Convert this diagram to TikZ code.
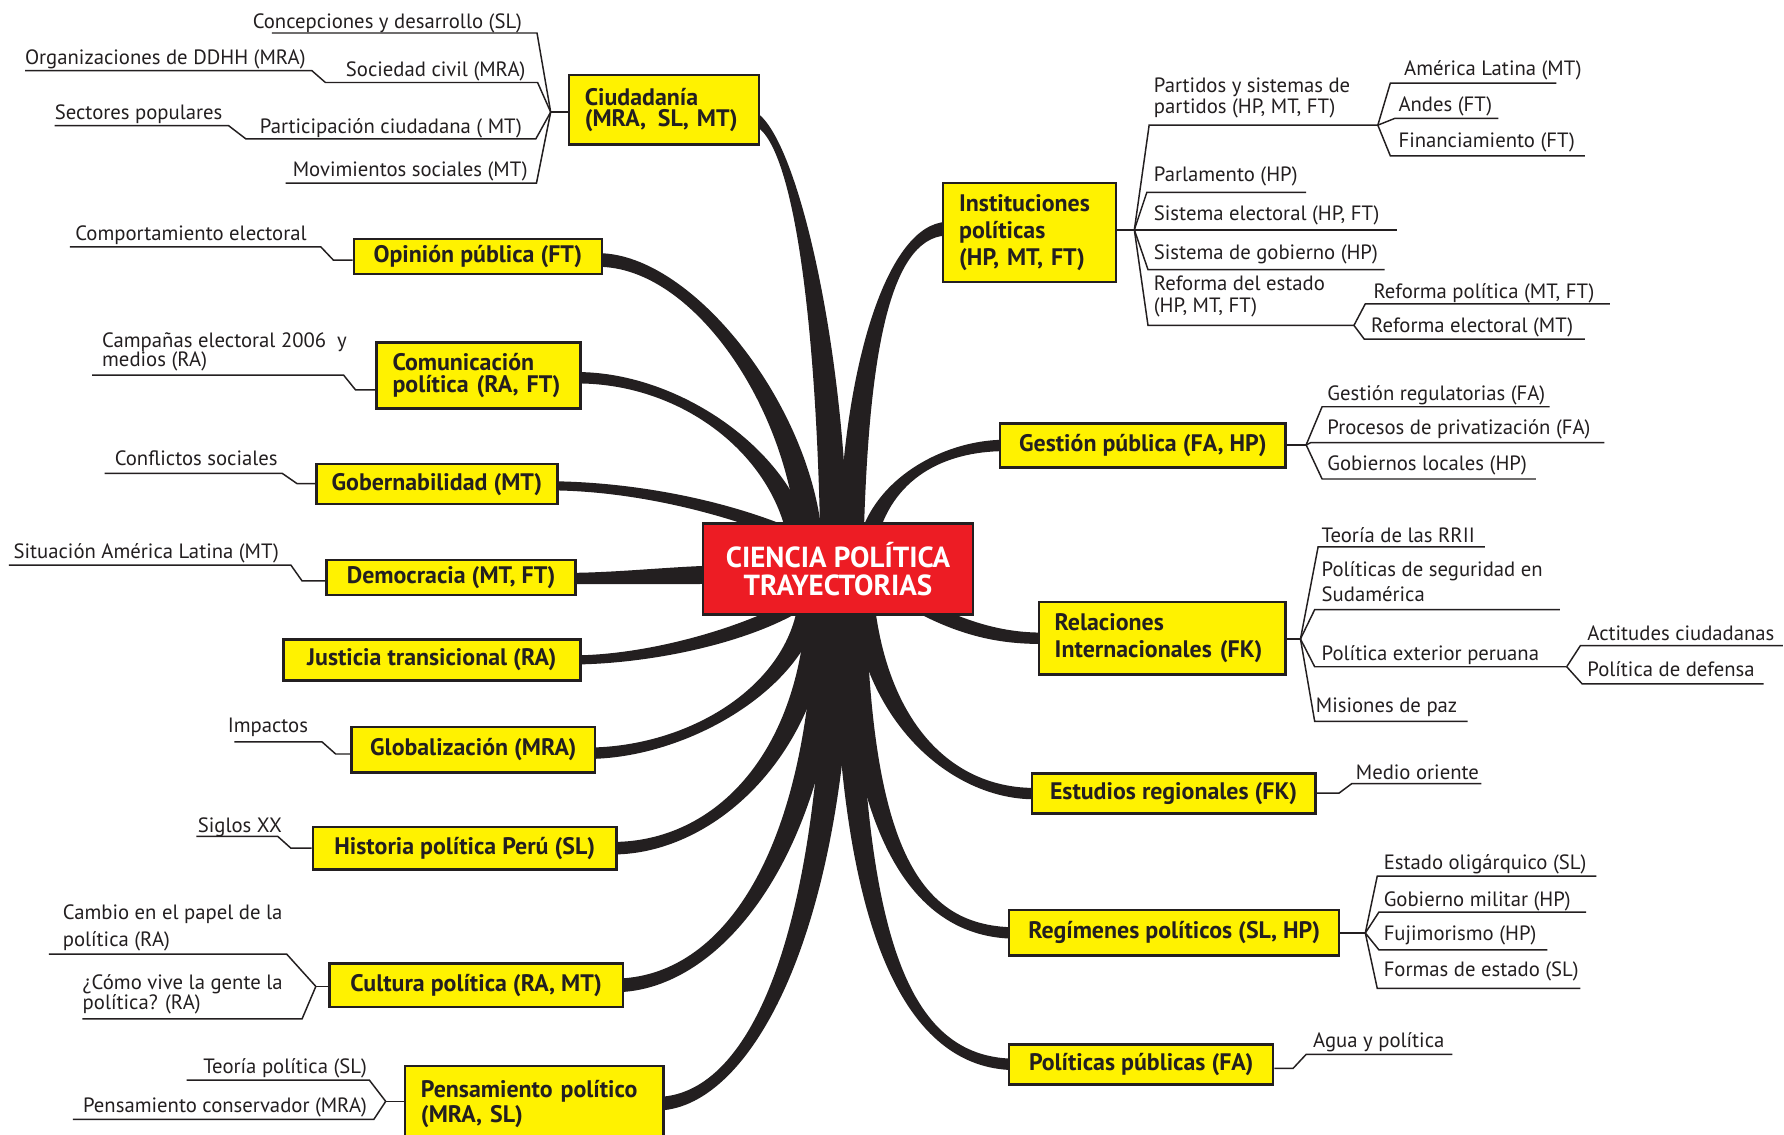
\documentclass[tikz,border=0pt]{standalone}
\usepackage{fontspec}
\usetikzlibrary{calc,backgrounds}
\newfontfamily\lblfam{PT Sans}
\definecolor{ink}{HTML}{231F20}
\definecolor{yel}{HTML}{FFF200}
\definecolor{redc}{HTML}{ED1C24}
\newcommand\lblfont{\lblfam\fontsize{18.2}{20}\selectfont}
\newcommand\bxf[1]{\lblfam\bfseries\fontsize{21}{#1}\selectfont}
\newcommand\cpf{\lblfam\bfseries\fontsize{25.5}{24.5}\selectfont}
\newcommand\tlimb[6]{\fill[ink] ($#1+#2$) .. controls ($#3+#2$) and ($#4+#6$) .. ($#5+#6$) -- ($#5-#6$) .. controls ($#4-#6$) and ($#3-#2$) .. ($#1-#2$) -- cycle;}
\begin{document}
\begin{tikzpicture}[x=1pt,y=-1pt,
 box/.style={draw=ink, line width=2.2pt, fill=yel, text=ink, font=\bxf{22}, inner sep=0pt},
 mbox/.style={box, align=left, inner xsep=14pt},
 lbl/.style={text=ink, font=\lblfont, inner sep=0pt},
 tl/.style={draw=ink, line width=1.3pt}]
\useasboundingbox (0,0) rectangle (1568,997);

% ---------- central node ----------
\node[draw=ink, line width=2pt, fill=redc, text=white, minimum width=237pt, minimum height=80pt,
      align=center, font=\cpf, inner sep=0pt] (cp) at (736.5,500) {CIENCIA POLÍTICA\\TRAYECTORIAS};

% ---------- left boxes ----------
\node[mbox, text width=139pt, minimum height=61pt, font={\bxf{18.5}}] (ciu) at (583.5,96.5) {Ciudadanía\\\mbox{(MRA,\, SL, MT)}};
\node[box, minimum width=218pt, minimum height=31pt] (opi) at (420,225.5) {Opinión pública (FT)};
\node[mbox, text width=151pt, minimum height=58pt, font={\bxf{19.5}}] (com) at (420.5,330) {Comunicación\\\mbox{política (RA, FT)}};
\node[box, minimum width=212pt, minimum height=35pt] (gob) at (384,425.5) {Gobernabilidad (MT)};
\node[box, minimum width=219pt, minimum height=31pt] (dem) at (396.5,507.5) {Democracia (MT, FT)};
\node[box, minimum width=261pt, minimum height=36pt] (jus) at (379.5,580) {Justicia transicional (RA)};
\node[box, minimum width=214pt, minimum height=40pt] (glo) at (416,659) {Globalización (MRA)};
\node[box, minimum width=267pt, minimum height=37pt] (his) at (408.5,745.5) {Historia política Perú (SL)};
\node[box, minimum width=258pt, minimum height=38pt] (cul) at (418.5,866) {Cultura política (RA, MT)};
\node[mbox, text width=199pt, minimum height=67pt, font={\bxf{21.5}}] (pen) at (469.5,970.5) {\mbox{Pensamiento político}\\(MRA, SL)};

% ---------- right boxes ----------
\node[mbox, text width=124pt, minimum height=87pt, font={\bxf{23.5}}] (ins) at (905,204.5) {Instituciones\\políticas\\\mbox{(HP, MT, FT)}};
\node[box, minimum width=251pt, minimum height=39pt] (ges) at (1004.5,391.5) {Gestión pública (FA, HP)};
\node[mbox, text width=189pt, minimum height=64pt, font={\bxf{24}}] (rel) at (1021.5,561) {Relaciones\\\mbox{Internacionales (FK)}};
\node[box, minimum width=249pt, minimum height=35pt] (est) at (1031.5,697.5) {Estudios regionales (FK)};
\node[box, minimum width=290pt, minimum height=40pt] (reg) at (1032,820) {Regímenes políticos (SL, HP)};
\node[box, minimum width=232pt, minimum height=35pt] (pol) at (1003,935.5) {Políticas públicas (FA)};

% ---------- left labels ----------
\node[lbl, anchor=base east] (t01) at (459,25.3) {Concepciones y desarrollo (SL)};
\node[lbl, anchor=base west] (t02) at (21.8,56.7) {Organizaciones de DDHH (MRA)};
\node[lbl, anchor=base east] (t03) at (462,67) {Sociedad civil (MRA)};
\node[lbl, anchor=base west] (t04) at (48,104.7) {Sectores populares};
\node[lbl, anchor=base east] (t05) at (459,117.7) {Participación ciudadana ( MT)};
\node[lbl, anchor=base east] (t06) at (464,155.5) {Movimientos sociales (MT)};
\node[lbl, anchor=base west] (t07) at (66,211) {Comportamiento electoral};
\node[lbl, anchor=base west] (t08) at (89.6,305.3) {Campañas electoral 2006~ y};
\node[lbl, anchor=base west] (t08b) at (89.6,321.9) {medios (RA)};
\node[lbl, anchor=base west] (t09) at (100.7,409.5) {Conflictos sociales};
\node[lbl, anchor=base west] (t10) at (11.8,490.6) {Situación América Latina (MT)};
\node[lbl, anchor=base west] (t11) at (200,644) {Impactos};
\node[lbl, anchor=base west] (t12) at (173.7,731.3) {Siglos XX};
\node[lbl, anchor=base west] (t13) at (55,808) {Cambio en el papel de la};
\node[lbl, anchor=base west] (t13b) at (55,832) {política (RA)};
\node[lbl, anchor=base west] (t14) at (72.5,870) {¿Cómo vive la gente la};
\node[lbl, anchor=base west] (t14b) at (72.5,887) {política? (RA)};
\node[lbl, anchor=base east] (t15) at (322.7,943.4) {Teoría política (SL)};
\node[lbl, anchor=base east] (t16) at (322.7,977.5) {Pensamiento conservador (MRA)};

% ---------- right labels ----------
\node[lbl, anchor=base west] (r01) at (1014,81.2) {Partidos y sistemas de};
\node[lbl, anchor=base west] (r01b) at (1014,99.4) {partidos (HP, MT, FT)};
\node[lbl, anchor=base west] (r02) at (1234,66.6) {América Latina (MT)};
\node[lbl, anchor=base west] (r03) at (1229,98) {Andes (FT)};
\node[lbl, anchor=base west] (r04) at (1229,130) {Financiamiento (FT)};
\node[lbl, anchor=base west] (r05) at (1014,159.5) {Parlamento (HP)};
\node[lbl, anchor=base west] (r06) at (1014,193.8) {Sistema electoral (HP, FT)};
\node[lbl, anchor=base west] (r07) at (1014,227.9) {Sistema de gobierno (HP)};
\node[lbl, anchor=base west] (r08) at (1014,255.4) {Reforma del estado};
\node[lbl, anchor=base west] (r08b) at (1014,274.8) {(HP, MT, FT)};
\node[lbl, anchor=base west] (r09) at (1207,262.5) {Reforma política (MT, FT)};
\node[lbl, anchor=base west] (r10) at (1205,292.4) {Reforma electoral (MT)};
\node[lbl, anchor=base west] (r11) at (1166.5,352) {Gestión regulatorias (FA)};
\node[lbl, anchor=base west] (r12) at (1166.5,381.7) {Procesos de privatización (FA)};
\node[lbl, anchor=base west] (r13) at (1166.5,413.2) {Gobiernos locales (HP)};
\node[lbl, anchor=base west] (r14) at (1161.5,476.8) {Teoría de las RRII};
\node[lbl, anchor=base west] (r15) at (1161.5,506.8) {Políticas de seguridad en};
\node[lbl, anchor=base west] (r15b) at (1161.5,529) {Sudamérica};
\node[lbl, anchor=base west] (r16) at (1161.5,580.7) {Política exterior peruana};
\node[lbl, anchor=base west] (r17) at (1395,562.8) {Actitudes ciudadanas};
\node[lbl, anchor=base west] (r18) at (1395,594.5) {Política de defensa};
\node[lbl, anchor=base west] (r19) at (1156.4,626.5) {Misiones de paz};
\node[lbl, anchor=base west] (r20) at (1191.5,684.7) {Medio oriente};
\node[lbl, anchor=base west] (r21) at (1216,764) {Estado oligárquico (SL)};
\node[lbl, anchor=base west] (r22) at (1216,797) {Gobierno militar (HP)};
\node[lbl, anchor=base west] (r23) at (1216,827) {Fujimorismo (HP)};
\node[lbl, anchor=base west] (r24) at (1216,858) {Formas de estado (SL)};
\node[lbl, anchor=base west] (r25) at (1154,920.3) {Agua y política};

% ---------- hubs ----------
\coordinate (hC) at (484,98.5);
\coordinate (hO) at (293,228.6);
\coordinate (hCo) at (312.5,342.7);
\coordinate (hG) at (261,425);
\coordinate (hD) at (265.5,510.6);
\coordinate (hGl) at (295,662.7);
\coordinate (hH) at (255.7,745.5);
\coordinate (hCu) at (277.6,867);
\coordinate (hP) at (339,968);
\coordinate (hI) at (997,202);
\coordinate (hI2) at (1211,110);
\coordinate (hI3) at (1190,286);
\coordinate (hGe) at (1148,391);
\coordinate (hR) at (1143,561.6);
\coordinate (hR2) at (1377,586);
\coordinate (hE) at (1177,697);
\coordinate (hRe) at (1200,820);
\coordinate (hPp) at (1136.5,939);

% ---------- branch end points ----------
\coordinate (sCiu) at (733,478);  \coordinate (eCiu) at ($(ciu.east)+(-4,8)$);
\coordinate (sOpi) at (712,478);  \coordinate (eOpi) at ($(opi.east)+(-4,3)$);
\coordinate (sCom) at (703,478);  \coordinate (eCom) at ($(com.east)+(-4,2)$);
\coordinate (sGob) at (700,472);  \coordinate (eGob) at ($(gob.east)+(-4,1.5)$);
\coordinate (sDem) at (630,505);  \coordinate (eDem) at ($(dem.east)+(-4,1)$);
\coordinate (sJus) at (700,532);  \coordinate (eJus) at ($(jus.east)+(-4,0)$);
\coordinate (sGlo) at (712,525);  \coordinate (eGlo) at ($(glo.east)+(-4,3)$);
\coordinate (sHis) at (720,525);  \coordinate (eHis) at ($(his.east)+(-4,0)$);
\coordinate (sCul) at (728,525);  \coordinate (eCul) at ($(cul.east)+(-4,0)$);
\coordinate (sPen) at (737,525);  \coordinate (ePen) at ($(pen.east)+(-4,-0.5)$);
\coordinate (sIns) at (748,478);  \coordinate (eIns) at ($(ins.west)+(4,-3.5)$);
\coordinate (sGes) at (762,478);  \coordinate (eGes) at ($(ges.west)+(4,0)$);
\coordinate (sRel) at (800,528);  \coordinate (eRel) at ($(rel.west)+(4,0)$);
\coordinate (sEst) at (758,525);  \coordinate (eEst) at ($(est.west)+(4,0)$);
\coordinate (sReg) at (750,525);  \coordinate (eReg) at ($(reg.west)+(4,0)$);
\coordinate (sPol) at (744,525);  \coordinate (ePol) at ($(pol.west)+(4,0)$);

\begin{pgfonlayer}{background}
\fill[white] (0,0) rectangle (1568,997);
% ----- thin sub-branches, left -----
\draw[tl] (ciu.west |- hC) -- (hC);
\draw[tl] (hC) -- (472,29) -- (239,29);
\draw[tl] (hC) -- (472.5,72.5) -- (286,72.5) -- (274,62) -- (22,62);
\draw[tl] (hC) -- (471,122) -- (216,122) -- (201,110.5) -- (48,110.5);
\draw[tl] (hC) -- (471.5,161) -- (251,161);
\draw[tl] (opi.west |- hO) -- (hO) -- (282,217) -- (61.5,217);
\draw[tl] (com.west |- hCo) -- (hCo) -- (302,329.7) -- (81,329.7);
\draw[tl] (gob.west |- hG) -- (hG) -- (248,416) -- (92,416);
\draw[tl] (dem.west |- hD) -- (hD) -- (255.7,496.7) -- (7.8,496.7);
\draw[tl] (glo.west |- hGl) -- (hGl) -- (283,652) -- (206,652);
\draw[tl] (his.west |- hH) -- (hH) -- (244,735) -- (172.5,735);
\draw[tl] (cul.west |- hCu) -- (hCu);
\draw[tl] (hCu) -- (252,838.6) -- (43,838.6);
\draw[tl] (hCu) -- (265.5,895.5) -- (72.5,895.5);
\draw[tl] (pen.west |- hP) -- (hP);
\draw[tl] (hP) -- (324.7,949.4) -- (164,949.4);
\draw[tl] (hP) -- (328.6,983.8) -- (64,983.8);
% ----- thin sub-branches, right -----
\draw[tl] (ins.east |- hI) -- (hI);
\draw[tl] (hI) -- (1010,110) -- (hI2);
\draw[tl] (hI2) -- (1222,73) -- (1368,73);
\draw[tl] (hI2) -- (1226,104) -- (1317,104);
\draw[tl] (hI2) -- (1222,137) -- (1393,137);
\draw[tl] (hI) -- (1008,169) -- (1148,169);
\draw[tl] (hI) -- (1228,202);
\draw[tl] (hI) -- (1009,237) -- (1217,237);
\draw[tl] (hI) -- (1009,286) -- (hI3);
\draw[tl] (hI3) -- (1200,267) -- (1415,267);
\draw[tl] (hI3) -- (1199,298) -- (1393,298);
\draw[tl] (ges.east |- hGe) -- (hGe);
\draw[tl] (hGe) -- (1162,357.5) -- (1362,357.5);
\draw[tl] (hGe) -- (1152,389) -- (1410,389);
\draw[tl] (hGe) -- (1162,421) -- (1350,421);
\draw[tl] (rel.east |- hR) -- (hR);
\draw[tl] (hR) -- (1158.5,480.7) -- (1305,480.7);
\draw[tl] (hR) -- (1155.5,535.8) -- (1371,535.8);
\draw[tl] (hR) -- (1155.5,586) -- (hR2);
\draw[tl] (hR2) -- (1389,567.5) -- (1567,567.5);
\draw[tl] (hR2) -- (1390.5,601) -- (1550,601);
\draw[tl] (hR) -- (1155.5,634) -- (1290,634);
\draw[tl] (est.east |- hE) -- (hE) -- (1188,688.8) -- (1302,688.8);
\draw[tl] (reg.east |- hRe) -- (hRe);
\draw[tl] (hRe) -- (1210.5,770) -- (1403,770);
\draw[tl] (hRe) -- (1212,801.6) -- (1394,801.6);
\draw[tl] (hRe) -- (1212,834.9) -- (1360,834.9);
\draw[tl] (hRe) -- (1210.5,868.7) -- (1389,868.7);
\draw[tl] (pol.east |- hPp) -- (hPp) -- (1148,926.7) -- (1276.5,926.7);
% ----- thick tapered branches -----
\tlimb{(sCiu)}{(12,0)}{(730,300)}{(700,125)}{(eCiu)}{(0,-6)}
\tlimb{(sOpi)}{(11,0)}{(705,360)}{(610,229)}{(eOpi)}{(0,-6)}
\tlimb{(sCom)}{(10,0)}{(690,400)}{(600,332)}{(eCom)}{(0,-5)}
\tlimb{(sGob)}{(0,-6)}{(640,446)}{(560,428)}{(eGob)}{(0,-4)}
\tlimb{(sDem)}{(0,-8)}{(590,506)}{(545,508)}{(eDem)}{(0,-5)}
\tlimb{(sJus)}{(0,-7)}{(650,560)}{(570,579)}{(eJus)}{(0,-4)}
\tlimb{(sGlo)}{(-10,0)}{(705,600)}{(610,660)}{(eGlo)}{(0,-5)}
\tlimb{(sHis)}{(-11,0)}{(715,660)}{(630,745)}{(eHis)}{(0,-5.5)}
\tlimb{(sCul)}{(-12,0)}{(725,740)}{(640,862)}{(eCul)}{(0,-6)}
\tlimb{(sPen)}{(-12,0)}{(735,820)}{(660,966)}{(ePen)}{(0,-6)}
\tlimb{(sIns)}{(11,0)}{(752,320)}{(780,203)}{(eIns)}{(0,6)}
\tlimb{(sGes)}{(8,0)}{(775,420)}{(830,392)}{(eGes)}{(0,5)}
\tlimb{(sRel)}{(0,7)}{(845,553)}{(880,561)}{(eRel)}{(0,5)}
\tlimb{(sEst)}{(-10,0)}{(770,640)}{(840,698)}{(eEst)}{(0,5)}
\tlimb{(sReg)}{(-11,0)}{(755,750)}{(810,818)}{(eReg)}{(0,5)}
\tlimb{(sPol)}{(-11,0)}{(745,830)}{(800,933)}{(ePol)}{(0,5)}
\end{pgfonlayer}
\end{tikzpicture}
\end{document}
